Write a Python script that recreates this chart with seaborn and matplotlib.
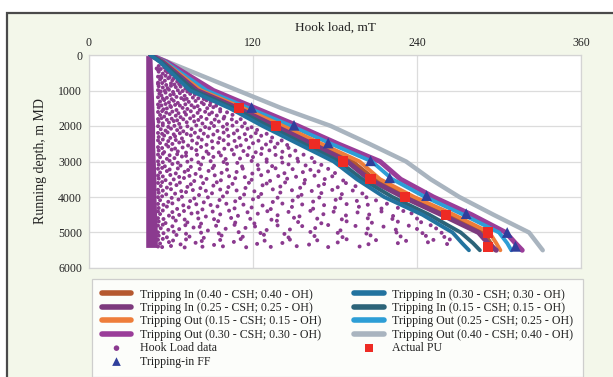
import matplotlib
matplotlib.use("Agg")
import matplotlib.pyplot as plt
from matplotlib.patches import Rectangle
import seaborn as sns

# ---------------- data ----------------
depth = [0, 200, 1000, 1500, 2000, 2500, 3000, 3500, 4000, 4500, 5000, 5300, 5500]

ti_040 = [45, 54, 80, 111, 139, 166, 193, 209, 234, 262, 289, 294, 297]
ti_025 = [45, 54, 79, 109, 136, 163, 189, 205, 230, 258, 285, 292, 298]
to_015 = [45, 55, 82, 113, 142, 170, 198, 213, 238, 267, 293, 298, 301]
to_030 = [45, 57, 91, 122, 153, 182, 213, 228, 252, 280, 305, 312, 317]
ti_030 = [45, 52, 74, 103, 127, 153, 179, 196, 216, 244, 266, 273, 278]
ti_015 = [45, 53, 77, 106, 131, 157, 183, 200, 222, 249, 272, 281, 286]
to_025 = [45, 56, 86, 117, 148, 177, 207, 222, 246, 274, 300, 306, 309]
to_040 = [45, 58, 109, 141, 177, 205, 232, 250, 271, 296, 322, 328, 332]

pu_depth = [1500, 2000, 2500, 3000, 3500, 4000, 4500, 5000, 5400]
pu_load = [110, 137, 165, 186, 206, 231, 261, 292, 292]

ff_depth = [1480, 1980, 2480, 2980, 3460, 3960, 4470, 5000, 5390]
ff_load = [119, 150, 175, 206, 220, 247, 276, 306, 312]

# dense band of hook-load readings
band_depth = [0, 500, 1000, 1500, 2000, 2500, 3000, 3500, 4000, 4500, 5000, 5420]
band_left = [41.5, 41.5, 41.5, 41.5, 41.5, 41.5, 41.5, 41.5, 41.5, 41.5, 41.5, 41.5]
band_right = [46, 46.5, 47, 47.5, 48, 48, 48.5, 49, 49, 49.5, 50, 50]

# scattered hook-load data
hl_x = [
    51, 53.5, 49.5, 55,
    51, 54, 57.5, 60, 52.5,
    52, 55.5, 58, 61, 64.5, 50.5,
    51, 54, 57.5, 60, 63.5, 67, 70.5,
    51.5, 53, 56, 59.5, 62, 66.5, 70, 74, 77.5,
    52, 55, 58.5, 62, 65, 69.5, 73, 78, 82.5, 86, 89,
    51, 54.5, 57, 60, 64, 68.5, 72, 77, 81, 86.5, 91, 96,
    52, 55, 59, 63.5, 67, 71, 76.5, 82, 88, 93.5, 99, 105,
    51, 54, 58.5, 62, 66, 71.5, 77, 83, 89.5, 95, 101, 108, 114,
    52.5, 56, 60, 64.5, 69, 75, 81.5, 88, 94, 101, 108.5, 116, 123,
    51, 55, 59.5, 63, 68, 74.5, 80, 87, 95.5, 102, 110, 118.5, 126, 134,
    52, 56.5, 61, 66, 72.5, 79, 86, 94.5, 102, 111, 120, 129.5, 138, 145,
    51, 55, 60.5, 65, 71, 78.5, 86, 95, 104.5, 113, 122, 132, 141.5, 151,
    52, 57, 62.5, 68, 75, 83.5, 91, 100, 110.5, 120, 130, 141, 152.5, 163,
    51, 55.5, 61, 67, 74.5, 82, 91.5, 101, 112, 123.5, 134, 146, 158.5, 170,
    52, 57, 63.5, 70, 78, 87.5, 97, 108, 119.5, 131, 143, 156.5, 168, 180,
    51, 56, 62, 69.5, 77, 86, 96.5, 107, 119, 132.5, 145, 158, 172.5, 186,
    52.5, 57, 64, 72, 81.5, 91, 102, 114.5, 127, 140, 154.5, 168, 182, 195,
    51, 56.5, 63, 71, 80.5, 90, 101, 113.5, 126, 140, 155.5, 170, 185, 200,
    52, 58, 65.5, 74, 84, 95.5, 107, 120, 134.5, 149, 164, 180.5, 196, 210,
    51, 57, 64.5, 73, 83, 94, 106.5, 119, 133, 148.5, 164, 180, 197.5, 214, 226,
    52, 58.5, 66, 75, 85.5, 96, 109, 123.5, 138, 154, 171.5, 188, 205, 222.5, 236,
    51, 56, 63.5, 72, 82, 94.5, 107, 121, 137.5, 153, 170, 188.5, 207, 226, 243,
    52.5, 58, 66, 76.5, 87, 100, 114.5, 130, 147, 165.5, 184, 204, 224.5, 240, 254,
    51, 57, 64, 73.5, 84, 97, 112.5, 128, 146, 165, 185.5, 206, 228, 246.5, 260,
    52, 58.5, 67, 78, 91.5, 106, 123, 141.5, 161, 182, 204.5, 226, 248, 262,
    50.5, 52.5, 56,
    50.5, 53, 56, 59, 62,
    50.5, 53.5, 56.5, 60, 62.5, 66,
    50.5, 52.5, 55.5, 58.5, 61.5, 65, 68.5, 72,
    50.5, 54, 57, 60.5, 64, 67.5, 71.5, 76, 80, 84,
    50.5, 53, 56, 59.5, 63, 66.5, 70.5, 75, 79.5, 84, 88.5, 93,
    50.5, 53.5, 56.5, 61, 65.5, 70, 74.5, 79.5, 85, 90, 96, 101,
    50.5, 53, 57, 60.5, 64.5, 69, 74, 80, 86, 92, 98.5, 104.5, 111,
    50.5, 54, 58, 62.5, 67, 72, 78.5, 85, 91.5, 98, 105, 112, 119,
    50.5, 53.5, 57.5, 62, 66.5, 71.5, 77.5, 84, 91, 98.5, 106, 114, 122, 130,
    50.5, 54, 58, 63.5, 69, 75.5, 82.5, 90, 98.5, 106.5, 115, 124, 133, 141,
    50.5, 53.5, 58, 63, 68.5, 75, 82, 90.5, 99, 108, 117, 126.5, 136, 146,
    50.5, 54, 59, 64.5, 71, 79, 87.5, 96.5, 106, 116, 126, 136.5, 147, 157,
    50.5, 54, 59, 65, 72, 80, 89, 98.5, 108.5, 119, 130, 141.5, 153, 165,
    50.5, 53.5, 59, 65, 72.5, 81, 90.5, 101, 112.5, 124, 136.5, 149, 162, 175,
    50.5, 54, 59.5, 66, 73.5, 82, 92, 102.5, 114, 126, 138.5, 151.5, 165, 178,
    50.5, 53.5, 59.5, 66.5, 74.5, 83.5, 93.5, 105, 117, 130, 143.5, 157.5, 172, 188,
    50.5, 54, 60, 67.5, 76, 85.5, 96, 108, 121, 134.5, 148.5, 163, 178, 193,
    50.5, 53.5, 60.5, 68, 77, 87, 98, 110.5, 124, 138, 153, 168.5, 184, 203,
    50.5, 54.5, 61, 69, 78.5, 89, 100.5, 113, 127, 141.5, 156, 172, 188.5, 204, 218,
    50.5, 54, 61, 69.5, 79.5, 90.5, 102.5, 116, 130.5, 146, 162, 179, 196.5, 214, 230,
    50.5, 54.5, 61.5, 70, 80, 91.5, 104, 118, 133.5, 150, 167, 185, 204, 222, 240,
    50.5, 54, 61, 70.5, 81, 93, 106.5, 121.5, 138, 156, 175, 195, 215.5, 234, 250,
    50.5, 54.5, 62, 71, 82, 95, 109.5, 125.5, 143, 162, 182, 203, 225, 244, 258,
    50.5, 54, 61.5, 71, 82.5, 96, 111, 128.5, 147, 167, 188.5, 210, 232, 252, 264,
    50.5, 53.5, 60, 70, 83, 98, 115, 133, 152, 175, 198,
]
hl_d = [
    310, 265, 380, 350,
    470, 525, 490, 545, 600,
    690, 725, 655, 712, 748, 780,
    880, 915, 935, 868, 905, 890, 948,
    1090, 1140, 1060, 1128, 1102, 1075, 1150, 1096, 1118,
    1310, 1270, 1335, 1290, 1350, 1260, 1320, 1295, 1340, 1275, 1330,
    1480, 1530, 1505, 1465, 1550, 1490, 1520, 1475, 1545, 1500, 1470, 1525,
    1690, 1735, 1665, 1710, 1750, 1680, 1720, 1745, 1670, 1705, 1740, 1685,
    1880, 1925, 1905, 1860, 1940, 1895, 1870, 1930, 1915, 1875, 1945, 1890, 1920,
    2090, 2130, 2075, 2115, 2150, 2085, 2120, 2065, 2140, 2100, 2125, 2080, 2110,
    2310, 2270, 2335, 2290, 2350, 2265, 2320, 2295, 2340, 2280, 2330, 2300, 2275, 2325,
    2480, 2525, 2505, 2465, 2550, 2490, 2530, 2470, 2515, 2545, 2485, 2520, 2495, 2535,
    2690, 2735, 2665, 2715, 2750, 2680, 2720, 2745, 2670, 2705, 2740, 2685, 2725, 2695,
    2880, 2925, 2905, 2860, 2945, 2895, 2870, 2930, 2915, 2875, 2940, 2890, 2920, 2900,
    3090, 3135, 3070, 3115, 3150, 3085, 3120, 3065, 3140, 3100, 3130, 3080, 3110, 3095,
    3310, 3270, 3335, 3290, 3350, 3265, 3320, 3295, 3340, 3280, 3330, 3300, 3275, 3325,
    3480, 3525, 3505, 3465, 3550, 3490, 3530, 3470, 3515, 3545, 3485, 3520, 3495, 3535,
    3690, 3735, 3665, 3715, 3750, 3680, 3720, 3745, 3670, 3705, 3740, 3685, 3725, 3695,
    3880, 3925, 3905, 3860, 3945, 3895, 3870, 3930, 3915, 3875, 3940, 3890, 3920, 3900,
    4090, 4135, 4070, 4115, 4150, 4085, 4120, 4065, 4140, 4100, 4130, 4080, 4110, 4095,
    4310, 4270, 4335, 4290, 4350, 4265, 4320, 4295, 4340, 4280, 4330, 4300, 4275, 4325, 4305,
    4480, 4525, 4505, 4465, 4550, 4490, 4530, 4470, 4515, 4545, 4485, 4520, 4495, 4535, 4460,
    4690, 4735, 4665, 4715, 4750, 4680, 4720, 4745, 4670, 4705, 4740, 4685, 4725, 4695, 4710,
    4880, 4925, 4905, 4860, 4945, 4895, 4870, 4930, 4915, 4875, 4940, 4890, 4920, 4900, 4885,
    5090, 5135, 5070, 5115, 5150, 5085, 5120, 5065, 5140, 5100, 5130, 5080, 5110, 5095, 5125,
    5310, 5270, 5335, 5290, 5350, 5265, 5320, 5295, 5340, 5280, 5330, 5300, 5275, 5325,
    420, 395, 445,
    610, 640, 585, 625, 660,
    815, 790, 845, 800, 830, 820,
    990, 1025, 1010, 975, 1040, 995, 1015, 1030,
    1190, 1225, 1205, 1245, 1180, 1215, 1235, 1200, 1220, 1240,
    1395, 1420, 1380, 1435, 1405, 1425, 1390, 1415, 1440, 1385, 1410, 1430,
    1605, 1580, 1625, 1595, 1640, 1610, 1585, 1630, 1600, 1620, 1590, 1615,
    1805, 1780, 1825, 1795, 1840, 1810, 1785, 1830, 1800, 1820, 1790, 1815, 1808,
    2005, 1980, 2025, 1995, 2040, 2010, 1985, 2030, 2000, 2020, 1990, 2015, 2035,
    2195, 2220, 2180, 2235, 2205, 2225, 2190, 2215, 2240, 2185, 2210, 2230, 2200, 2220,
    2405, 2380, 2425, 2395, 2440, 2410, 2385, 2430, 2400, 2420, 2390, 2415, 2435, 2408,
    2595, 2620, 2580, 2635, 2605, 2625, 2590, 2615, 2640, 2585, 2610, 2630, 2600, 2618,
    2805, 2780, 2825, 2795, 2840, 2810, 2785, 2830, 2800, 2820, 2790, 2815, 2835, 2808,
    2995, 3020, 2980, 3035, 3005, 3025, 2990, 3015, 3040, 2985, 3010, 3030, 3000, 3018,
    3205, 3180, 3225, 3195, 3240, 3210, 3185, 3230, 3200, 3220, 3190, 3215, 3235, 3208,
    3395, 3420, 3380, 3435, 3405, 3425, 3390, 3415, 3440, 3385, 3410, 3430, 3400, 3418,
    3605, 3580, 3625, 3595, 3640, 3610, 3585, 3630, 3600, 3620, 3590, 3615, 3635, 3608,
    3795, 3820, 3780, 3835, 3805, 3825, 3790, 3815, 3840, 3785, 3810, 3830, 3800, 3818,
    4005, 3980, 4025, 3995, 4040, 4010, 3985, 4030, 4000, 4020, 3990, 4015, 4035, 4008,
    4195, 4220, 4180, 4235, 4205, 4225, 4190, 4215, 4240, 4185, 4210, 4230, 4200, 4218, 4190,
    4405, 4380, 4425, 4395, 4440, 4410, 4385, 4430, 4400, 4420, 4390, 4415, 4435, 4408, 4395,
    4595, 4620, 4580, 4635, 4605, 4625, 4590, 4615, 4640, 4585, 4610, 4630, 4600, 4618, 4608,
    4805, 4780, 4825, 4795, 4840, 4810, 4785, 4830, 4800, 4820, 4790, 4815, 4835, 4808, 4795,
    4995, 5020, 4980, 5035, 5005, 5025, 4990, 5015, 5040, 4985, 5010, 5030, 5000, 5018, 5008,
    5205, 5180, 5225, 5195, 5240, 5210, 5185, 5230, 5200, 5220, 5190, 5215, 5235, 5208, 5195,
    5395, 5410, 5380, 5420, 5400, 5390, 5415, 5405, 5385, 5410, 5395,
]

x_ticks = [0, 120, 240, 360]
y_ticks = [0, 1000, 2000, 3000, 4000, 5000, 6000]

# ---------------- style ----------------
sns.set_theme(style="white")
plt.rcParams['font.family'] = ['Liberation Serif', 'DejaVu Serif']

W, H = 613, 377
fig = plt.figure(figsize=(W / 100, H / 100), dpi=100)
fig.patch.set_facecolor('white')
fig.patches.append(Rectangle((7 / W, -0.1), 1.2, (H - 13) / H + 0.1,
                             transform=fig.transFigure, facecolor='#f3f7ea',
                             edgecolor='#4a4a4a', lw=1.6, zorder=-10))

ax = fig.add_axes([89 / W, 1 - 268 / H, 492 / W, 213 / H])
ax.set_facecolor('white')

hl_color = '#8b3a8f'

ax.fill_betweenx(band_depth, band_left, band_right, color=hl_color, lw=0, zorder=2)
sns.scatterplot(x=hl_x, y=hl_d, ax=ax, s=8, color=hl_color, edgecolor='none',
                label='Hook Load data', zorder=2)

curves = [
    (to_040, '#a9b4bf', 'Tripping Out (0.40 - CSH; 0.40 - OH)', 3.2),
    (to_030, '#9a3d99', 'Tripping Out (0.30 - CSH; 0.30 - OH)', 3.6),
    (to_025, '#2d9ed6', 'Tripping Out (0.25 - CSH; 0.25 - OH)', 2.8),
    (ti_040, '#b5582f', 'Tripping In (0.40 - CSH; 0.40 - OH)', 2.8),
    (to_015, '#ee7d3a', 'Tripping Out (0.15 - CSH; 0.15 - OH)', 2.8),
    (ti_025, '#7d3a7e', 'Tripping In (0.25 - CSH; 0.25 - OH)', 3.6),
    (ti_015, '#2c6479', 'Tripping In (0.15 - CSH; 0.15 - OH)', 2.8),
    (ti_030, '#22739f', 'Tripping In (0.30 - CSH; 0.30 - OH)', 2.8),
]
for vals, col, lab, lw in curves:
    sns.lineplot(x=vals, y=depth, ax=ax, orient='y', color=col, lw=lw,
                 label=lab, zorder=3)

sns.scatterplot(x=pu_load, y=pu_depth, ax=ax, marker='s', s=55, color='#ee2b24',
                edgecolor='none', label='Actual PU', zorder=5)
sns.scatterplot(x=ff_load, y=ff_depth, ax=ax, marker='^', s=60, color='#2f3f9c',
                edgecolor='none', label='Tripping-in FF', zorder=5)

# ---------------- axes ----------------
ax.set_xlim(0, 360)
ax.set_ylim(6000, 0)
ax.xaxis.tick_top()
ax.xaxis.set_label_position('top')
ax.set_xticks(x_ticks)
ax.set_yticks(y_ticks)
ax.set_xticklabels([str(v) for v in x_ticks])
ax.set_yticklabels([str(v) for v in y_ticks])
ax.tick_params(axis='both', length=0, labelsize=8.5, colors='#222222')
ax.tick_params(axis='x', pad=4)
ax.tick_params(axis='y', pad=5)
ax.set_xlabel('Hook load, mT', fontsize=9.5, color='#222222', labelpad=4.5)
ax.set_ylabel('Running depth, m MD', fontsize=10, color='#222222', labelpad=8)
ax.grid(True, color='#dcdcdc', lw=0.9)
ax.set_axisbelow(True)
for sp in ax.spines.values():
    sp.set_color('#d4d4d4')
    sp.set_linewidth(0.9)

# ---------------- legend ----------------
handles, labels = ax.get_legend_handles_labels()
lookup = dict(zip(labels, handles))
order = [
    'Tripping In (0.40 - CSH; 0.40 - OH)',
    'Tripping In (0.25 - CSH; 0.25 - OH)',
    'Tripping Out (0.15 - CSH; 0.15 - OH)',
    'Tripping Out (0.30 - CSH; 0.30 - OH)',
    'Hook Load data',
    'Tripping-in FF',
    'Tripping In (0.30 - CSH; 0.30 - OH)',
    'Tripping In (0.15 - CSH; 0.15 - OH)',
    'Tripping Out (0.25 - CSH; 0.25 - OH)',
    'Tripping Out (0.40 - CSH; 0.40 - OH)',
    'Actual PU',
]
leg = ax.legend([lookup[k] for k in order], order, loc='upper left',
                bbox_to_anchor=(92 / W, 1 - 372 / H, 491 / W, 93 / H),
                bbox_transform=fig.transFigure, mode='expand', ncol=2,
                frameon=True, fancybox=False, edgecolor='#c4c4c4',
                fontsize=8.6, handlelength=2.5, handletextpad=0.7,
                labelspacing=0.12, borderpad=0.8, borderaxespad=0,
                columnspacing=1.0, markerscale=0.8)
leg.get_frame().set_facecolor('white')
leg.get_frame().set_linewidth(0.9)
for txt in leg.get_texts():
    txt.set_color('#222222')
for lh in leg.get_lines():
    lh.set_linewidth(4)
    lh.set_solid_capstyle('round')
leg.legend_handles[4].set_sizes([16])

fig.savefig('out.png', dpi=100)
